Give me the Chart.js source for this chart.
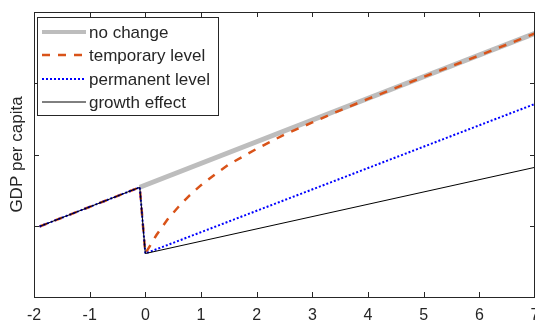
<!DOCTYPE html>
<html>
<head>
<meta charset="utf-8">
<script src="https://cdn.jsdelivr.net/npm/chart.js@4"></script>
<style>
  html, body { margin: 0; padding: 0; background: #ffffff; }
  #wrap { width: 535px; height: 320px; }
</style>
</head>
<body>
<div id="wrap"><canvas id="c" width="535" height="320"></canvas></div>
<script>
// ---- data ----
const seriesLabels = ['no change', 'temporary level', 'permanent level', 'growth effect'];
const xTicks = [-2, -1, 0, 1, 2, 3, 4, 5, 6, 7];
const yTicks = [0, 1, 2, 3, 4];

const noChangeX = [-0.1, 7];
const noChangeY = [1.54, 3.70];

const temporaryX = [-1.9, -0.1, 0, 0.1, 0.2, 0.3, 0.4, 0.5, 0.6, 0.8, 1.0, 1.25, 1.5, 1.75, 2.0, 2.5, 3.0, 3.5, 4, 5, 6, 7];
const temporaryY = [0.99, 1.54, 0.61, 0.74, 0.87, 0.98, 1.09, 1.18, 1.27, 1.43, 1.57, 1.72, 1.86, 1.97, 2.08, 2.28, 2.45, 2.62, 2.78, 3.09, 3.39, 3.70];

const permanentX = [-1.9, -0.1, 0, 7];
const permanentY = [0.99, 1.54, 0.61, 2.71];

const growthX = [-1.9, -0.1, 0, 7];
const growthY = [0.99, 1.54, 0.61, 1.82];

const yTitle = 'GDP per capita';

// ---- helpers ----
function pts(xs, ys) { return xs.map((x, i) => ({ x: x, y: ys[i] })); }

const AXIS_COLOR = '#262626';
const FONT = "'Liberation Sans', Arial, Helvetica, sans-serif";

const styles = [
  { color: '#bdbdbd', width: 5, dash: [], order: 4 },
  { color: '#d95319', width: 2.5, dash: [8, 8], order: 3 },
  { color: '#0000ff', width: 2, dash: [2, 2], order: 2 },
  { color: '#000000', width: 1, dash: [], order: 1 }
];

const frameAndLegend = {
  id: 'frameAndLegend',
  afterDraw(chart) {
    const ctx = chart.ctx;
    const a = chart.chartArea;
    const xs = chart.scales.x, ys = chart.scales.y;
    ctx.save();
    ctx.strokeStyle = AXIS_COLOR;
    ctx.lineWidth = 1;
    ctx.setLineDash([]);
    // frame
    ctx.strokeRect(a.left + 0.5, a.top + 0.5, a.right - a.left - 1, a.bottom - a.top);
    // inward ticks
    const tl = 5;
    ctx.beginPath();
    xTicks.forEach(v => {
      const px = Math.round(xs.getPixelForValue(v)) + 0.5;
      ctx.moveTo(px, a.bottom); ctx.lineTo(px, a.bottom - tl);
      ctx.moveTo(px, a.top); ctx.lineTo(px, a.top + tl);
    });
    yTicks.forEach(v => {
      const py = Math.round(ys.getPixelForValue(v)) + 0.5;
      ctx.moveTo(a.left, py); ctx.lineTo(a.left + tl, py);
      ctx.moveTo(a.right, py); ctx.lineTo(a.right - tl, py);
    });
    ctx.stroke();

    // legend
    const bx = 37.5, by = 17.5, bw = 181, bh = 98;
    ctx.fillStyle = '#ffffff';
    ctx.fillRect(bx, by, bw, bh);
    ctx.strokeStyle = AXIS_COLOR;
    ctx.strokeRect(bx, by, bw, bh);
    const rows = [32, 55, 79, 102];
    ctx.font = '17px ' + FONT;
    ctx.textBaseline = 'middle';
    ctx.textAlign = 'left';
    seriesLabels.forEach((lab, i) => {
      const s = styles[i];
      ctx.beginPath();
      ctx.strokeStyle = s.color;
      ctx.lineWidth = s.width === 5 ? 4 : s.width;
      ctx.setLineDash(s.dash);
      ctx.moveTo(42, rows[i]);
      ctx.lineTo(86, rows[i]);
      ctx.stroke();
      ctx.setLineDash([]);
      ctx.fillStyle = AXIS_COLOR;
      ctx.fillText(lab, 89, rows[i] + 1);
    });
    ctx.restore();
  }
};

const seriesData = [
  pts(noChangeX, noChangeY),
  pts(temporaryX, temporaryY),
  pts(permanentX, permanentY),
  pts(growthX, growthY)
];

new Chart(document.getElementById('c'), {
  type: 'line',
  data: {
    datasets: seriesLabels.map((lab, i) => ({
      label: lab,
      data: seriesData[i],
      order: styles[i].order,
      borderColor: styles[i].color,
      borderWidth: styles[i].width,
      borderDash: styles[i].dash,
      pointRadius: 0,
      fill: false,
      tension: 0,
      borderCapStyle: 'butt',
      borderJoinStyle: 'miter'
    }))
  },
  options: {
    responsive: false,
    animation: false,
    layout: { padding: { top: 12, right: 0, left: 0, bottom: 0 } },
    plugins: { legend: { display: false }, tooltip: { enabled: false } },
    scales: {
      x: {
        type: 'linear',
        min: -2, max: 7,
        afterBuildTicks(scale) { scale.ticks = xTicks.map(v => ({ value: v })); },
        afterFit(scale) { scale.height = 23; scale.paddingLeft = 0; scale.paddingRight = 0; },
        grid: { display: false, drawTicks: false },
        border: { display: false },
        ticks: { color: AXIS_COLOR, font: { family: FONT, size: 16 }, padding: 9, maxRotation: 0, autoSkip: false }
      },
      y: {
        type: 'linear',
        min: 0, max: 4,
        afterBuildTicks(scale) { scale.ticks = yTicks.map(v => ({ value: v })); },
        afterFit(scale) { scale.width = 34; scale.paddingTop = 0; scale.paddingBottom = 0; },
        grid: { display: false, drawTicks: false },
        border: { display: false },
        ticks: { display: false },
        title: { display: true, text: yTitle, color: AXIS_COLOR, font: { family: FONT, size: 17 }, padding: { top: 7, bottom: 0 } }
      }
    }
  },
  plugins: [frameAndLegend]
});
</script>
</body>
</html>
